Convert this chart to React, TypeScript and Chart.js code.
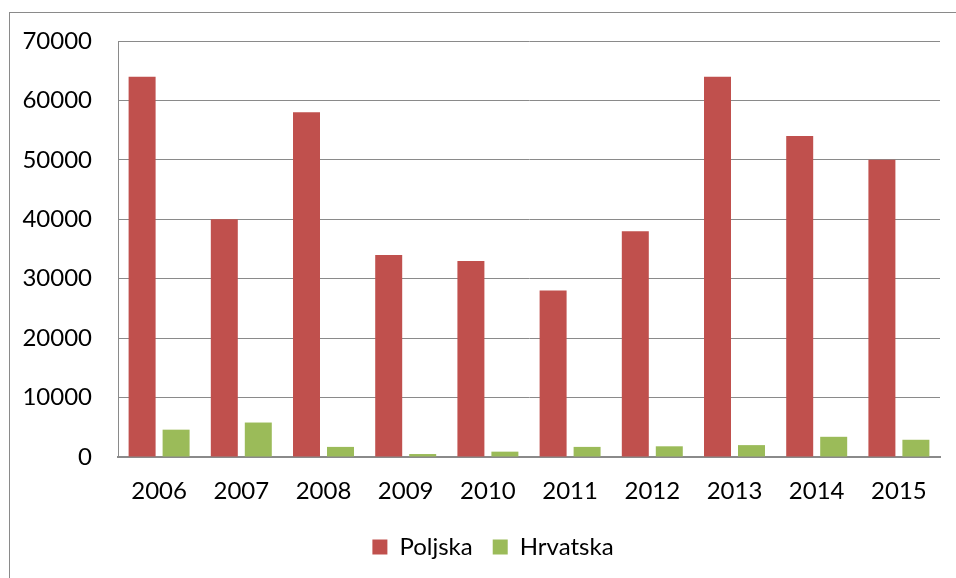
import React, { useEffect, useRef } from "react";
import { Chart, registerables } from "chart.js";

Chart.register(...registerables);

const years = ["2006", "2007", "2008", "2009", "2010", "2011", "2012", "2013", "2014", "2015"];
const poljska = [64000, 40000, 58000, 34000, 33000, 28000, 38000, 64000, 54000, 50000];
const hrvatska = [4600, 5800, 1700, 500, 900, 1700, 1800, 2000, 3400, 2900];
const seriesNames = ["Poljska", "Hrvatska"];
const yMax = 70000;
const yStep = 10000;

const FONT = "Lato, 'Open Sans', sans-serif";

const framePlugin = {
  id: "frame",
  afterLayout(chart: any) {
    if (chart.legend) {
      chart.legend.left += 23;
      chart.legend.right += 23;
    }
  },
  beforeDraw(chart: any) {
    const ctx = chart.ctx;
    ctx.save();
    ctx.fillStyle = "#ffffff";
    ctx.fillRect(0, 0, chart.width, chart.height);
    ctx.strokeStyle = "#8a8a8a";
    ctx.lineWidth = 1;
    ctx.strokeRect(9.5, 12.5, 1200, 1200);
    ctx.restore();
  },
};

export default function App() {
  const ref = useRef<HTMLCanvasElement | null>(null);
  useEffect(() => {
    if (!ref.current) return;
    const chart = new Chart(ref.current, {
      type: "bar",
      data: {
        labels: years,
        datasets: [
          {
            label: seriesNames[0],
            data: poljska,
            backgroundColor: "#C0504D",
            borderWidth: 0,
            categoryPercentage: 0.827,
            barPercentage: 0.794,
          },
          {
            label: seriesNames[1],
            data: hrvatska,
            backgroundColor: "#9BBB59",
            borderWidth: 0,
            categoryPercentage: 0.827,
            barPercentage: 0.794,
          },
        ],
      },
      options: {
        responsive: false,
        animation: false,
        layout: { padding: { left: 0, top: 41, right: 16, bottom: 9 } },
        plugins: {
          tooltip: { enabled: false },
          legend: {
            position: "bottom",
            labels: {
              color: "#000000",
              font: { family: FONT, size: 24 },
              boxWidth: 15,
              boxHeight: 15,
              padding: 20,
            },
          },
        },
        scales: {
          x: {
            afterFit(scale: any) {
              scale.height = 58;
            },
            grid: { display: true, color: "rgba(0,0,0,0)", drawTicks: false, drawOnChartArea: false },
            border: { display: true, color: "#8a8a8a", width: 2 },
            ticks: { color: "#000000", font: { family: FONT, size: 24 }, padding: 20 },
          },
          y: {
            min: 0,
            max: yMax,
            afterFit(scale: any) {
              scale.width = 118;
            },
            grid: { color: "#8a8a8a", lineWidth: 1, drawTicks: false },
            border: { display: true, color: "#8a8a8a", width: 1 },
            ticks: {
              stepSize: yStep,
              color: "#000000",
              font: { family: FONT, size: 24 },
              padding: 26,
              callback: (v: any) => String(v),
            },
          },
        },
      },
      plugins: [framePlugin],
    });
    return () => chart.destroy();
  }, []);
  return (
    <div style={{ position: "fixed", left: 0, top: 0, width: 956, height: 578, background: "#fff" }}>
      <canvas ref={ref} width={956} height={578} />
    </div>
  );
}
